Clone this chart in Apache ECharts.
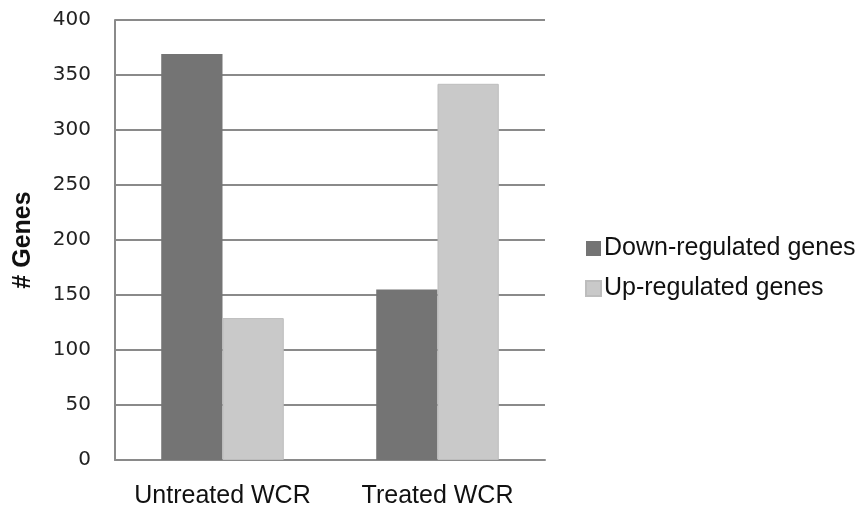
<!DOCTYPE html>
<html>
<head>
<meta charset="utf-8">
<script src="https://cdn.jsdelivr.net/npm/echarts@6/dist/echarts.min.js"></script>
<style>
  html, body { margin: 0; padding: 0; background: #fff; }
  #chart { width: 862px; height: 509px; }
</style>
</head>
<body>
<div id="chart"></div>
<script>
const categories = ["Untreated WCR", "Treated WCR"];
const downRegulated = [369, 155];
const upRegulated = [129, 342];
const yTicks = [0, 50, 100, 150, 200, 250, 300, 350, 400];

const chart = echarts.init(document.getElementById("chart"));

const option = {
  animation: false,
  grid: { left: 115, right: 317, top: 20, bottom: 49 },
  legend: {
    orient: "vertical",
    left: 585,
    top: 236,
    padding: 0,
    itemGap: 15,
    itemWidth: 15,
    itemHeight: 15,
    icon: "rect",
    textStyle: {
      fontFamily: "Liberation Sans",
      fontSize: 25,
      lineHeight: 25,
      color: "#111",
      padding: [0, 0, 0, -2],
    },
    data: ["Down-regulated genes", "Up-regulated genes"],
  },
  xAxis: {
    type: "category",
    data: categories,
    axisLine: { lineStyle: { color: "#8a8a8a", width: 2 } },
    axisTick: { show: false },
    axisLabel: {
      interval: 0,
      margin: 24,
      fontFamily: "Liberation Sans",
      fontSize: 25,
      color: "#111",
    },
  },
  yAxis: {
    type: "value",
    min: yTicks[0],
    max: yTicks[yTicks.length - 1],
    interval: 50,
    name: "# Genes",
    nameLocation: "middle",
    nameGap: 79,
    nameTextStyle: {
      fontFamily: "Liberation Sans",
      fontWeight: "bold",
      fontSize: 25,
      color: "#111",
    },
    axisLine: { show: true, lineStyle: { color: "#8a8a8a", width: 2 } },
    axisTick: { show: false },
    splitLine: { lineStyle: { color: "#8a8a8a", width: 2 } },
    axisLabel: {
      margin: 24,
      fontFamily: "DejaVu Sans",
      fontSize: 20,
      color: "#222",
    },
  },
  series: [
    {
      name: "Down-regulated genes",
      type: "bar",
      data: downRegulated,
      barGap: "0%",
      barCategoryGap: "43%",
      itemStyle: { color: "#747474" },
    },
    {
      name: "Up-regulated genes",
      type: "bar",
      data: upRegulated,
      itemStyle: { color: "#c9c9c9", borderColor: "#bdbdbd", borderWidth: 1 },
    },
  ],
};

chart.setOption(option);
</script>
</body>
</html>
